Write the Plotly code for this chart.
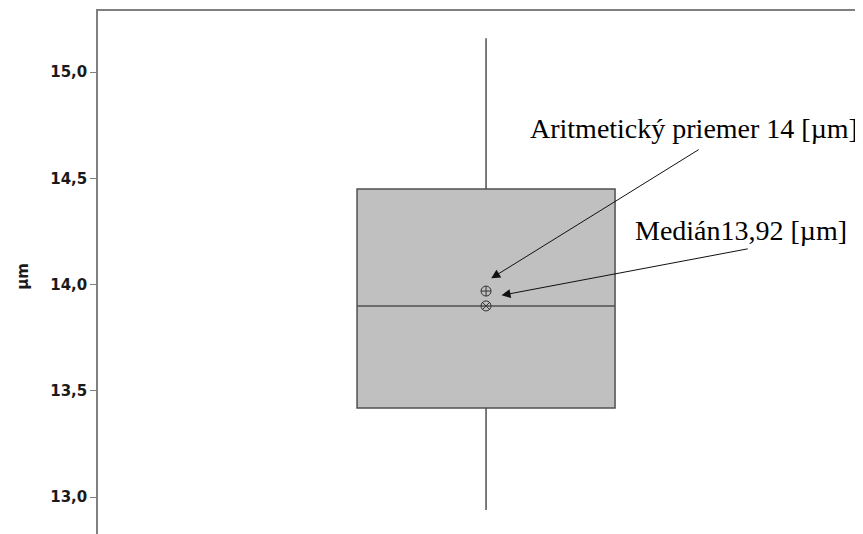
import plotly.graph_objects as go

# box statistics (µm)
q1 = [13.42]
median = [13.90]
q3 = [14.45]
lower_fence = [12.94]
upper_fence = [15.16]
mean = [13.97]

y_ticks = [13.0, 13.5, 14.0, 14.5, 15.0]

mean_label = "Aritmetický priemer 14 [µm]"
median_label = "Medián13,92 [µm]"

fig = go.Figure()

fig.add_trace(go.Box(
    x=[0], q1=q1, median=median, q3=q3,
    lowerfence=lower_fence, upperfence=upper_fence,
    width=1, whiskerwidth=0,
    fillcolor="#c0c0c0", line=dict(color="#505050", width=1.5),
    showlegend=False, hoverinfo="skip",
))

# mean and median symbols
fig.add_trace(go.Scatter(
    x=[0], y=mean, mode="markers",
    marker=dict(symbol="circle-cross-open", size=10, color="#333333", line=dict(width=1)),
    showlegend=False,
))
fig.add_trace(go.Scatter(
    x=[0], y=median, mode="markers",
    marker=dict(symbol="circle-x-open", size=10, color="#333333", line=dict(width=1)),
    showlegend=False,
))

label_font = dict(family="Liberation Serif, Times New Roman, serif", size=28, color="#000000")

# labels
fig.add_annotation(x=1.450, y=14.735, text=mean_label, showarrow=False,
                   xanchor="right", yanchor="middle", font=label_font)
fig.add_annotation(x=1.407, y=14.255, text=median_label, showarrow=False,
                   xanchor="right", yanchor="middle", font=label_font)

# arrows
arrow_style = dict(showarrow=True, arrowhead=2, arrowsize=1.8, arrowwidth=1,
                   arrowcolor="#111111", axref="x", ayref="y", text="")
fig.add_annotation(x=0.02, y=14.03, ax=0.83, ay=14.64, **arrow_style)
fig.add_annotation(x=0.06, y=13.95, ax=1.02, ay=14.17, **arrow_style)

fig.update_layout(
    width=863, height=534,
    margin=dict(l=90, r=0, t=3, b=0),
    plot_bgcolor="white", paper_bgcolor="white",
    separators=", ",
)

fig.update_xaxes(
    range=[-1.504, 1.492], side="top",
    showline=True, linecolor="#808080", linewidth=1.5,
    showticklabels=False, ticks="", showgrid=False, zeroline=False,
)
fig.update_yaxes(
    range=[12.789, 15.288],
    tickvals=y_ticks, tickformat=".1f",
    ticks="outside", ticklen=6, tickcolor="#808080",
    tickfont=dict(family="DejaVu Sans", size=15, color="#1a1a1a", weight="bold"),
    showline=True, linecolor="#808080", linewidth=1.5,
    showgrid=False, zeroline=False,
    title=dict(text="µm", font=dict(family="DejaVu Sans", size=15, color="#1a1a1a", weight="bold"),
               standoff=18),
)

fig.write_html("out.html")
